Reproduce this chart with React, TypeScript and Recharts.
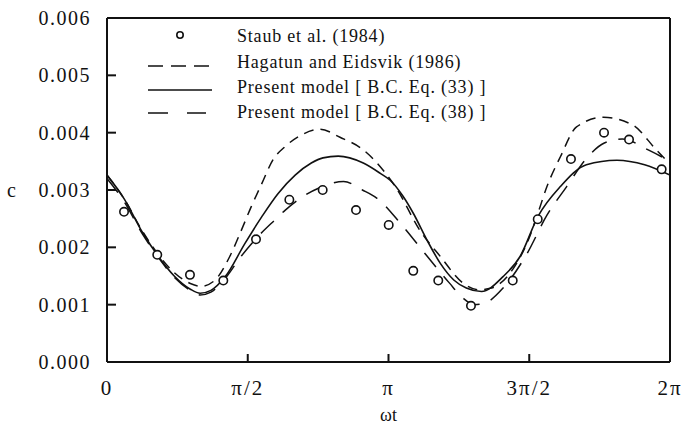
import {
  ComposedChart, Line, Scatter, XAxis, YAxis, ReferenceLine, Legend,
} from "recharts";

const PI = Math.PI;

// Staub et al. (1984) measurements
const staubX = [0.19, 0.561, 0.926, 1.298, 1.663, 2.035, 2.407, 2.779, 3.144, 3.418, 3.697, 4.062, 4.528, 4.807, 5.178, 5.547, 5.826, 6.19];
const staubC = [0.00262, 0.00187, 0.00152, 0.00142, 0.00214, 0.00283, 0.003, 0.00265, 0.00239, 0.00159, 0.00142, 0.00098, 0.00142, 0.00249, 0.00354, 0.004, 0.00388, 0.00336];

// Hagatun and Eidsvik (1986)
const hagX = [0, 0.19, 0.4, 0.56, 0.75, 0.93, 1.05, 1.2, 1.37, 1.5, 1.61, 1.73, 1.85, 1.99, 2.17, 2.38, 2.6, 2.86, 3.08, 3.23, 3.49, 3.72, 3.97, 4.15, 4.29, 4.53, 4.72, 4.81, 4.91, 5.06, 5.24, 5.54, 5.87, 6.13, 6.283];
const hagC = [0.00326, 0.00285, 0.00227, 0.0019, 0.00156, 0.00137, 0.00132, 0.00142, 0.00184, 0.0023, 0.00271, 0.00312, 0.00352, 0.00376, 0.00396, 0.00406, 0.00392, 0.0037, 0.00335, 0.00303, 0.0023, 0.00184, 0.00138, 0.00126, 0.00129, 0.00162, 0.0022, 0.0026, 0.00306, 0.00358, 0.0041, 0.00427, 0.00413, 0.0037, 0.00345];

// Present model, B.C. Eq. (33)
const eq33X = [0, 0.19, 0.4, 0.56, 0.75, 0.93, 1.04, 1.16, 1.32, 1.54, 1.73, 1.91, 2.1, 2.28, 2.41, 2.58, 2.86, 3.05, 3.16, 3.3, 3.42, 3.57, 3.72, 3.87, 4.01, 4.18, 4.42, 4.61, 4.81, 5.06, 5.35, 5.69, 6.0, 6.283];
const eq33C = [0.00326, 0.00285, 0.00225, 0.00187, 0.0015, 0.00127, 0.0012, 0.00125, 0.00149, 0.00207, 0.00254, 0.00294, 0.00326, 0.00347, 0.00356, 0.00359, 0.00347, 0.00329, 0.00317, 0.0029, 0.00259, 0.00213, 0.00172, 0.00143, 0.00129, 0.00123, 0.00149, 0.00184, 0.00254, 0.00306, 0.00344, 0.00352, 0.00344, 0.00326];

// Present model, B.C. Eq. (38)
const eq38X = [0, 0.19, 0.4, 0.56, 0.75, 0.93, 1.04, 1.16, 1.3, 1.5, 1.65, 1.875, 1.99, 2.21, 2.36, 2.64, 2.85, 3.01, 3.29, 3.56, 3.82, 3.97, 4.1, 4.22, 4.42, 4.68, 4.91, 5.13, 5.35, 5.55, 5.75, 6.04, 6.283];
const eq38C = [0.0032, 0.0028, 0.00222, 0.00185, 0.00148, 0.00125, 0.00117, 0.00122, 0.00142, 0.00185, 0.00213, 0.00248, 0.00265, 0.00291, 0.00303, 0.00315, 0.003, 0.00286, 0.00239, 0.00187, 0.00138, 0.00112, 0.001, 0.00103, 0.00129, 0.00187, 0.00256, 0.00306, 0.00355, 0.00382, 0.00389, 0.0037, 0.0035];

const xTicks = [0, PI / 2, PI, (3 * PI) / 2, 2 * PI];
const xTickLabels = ["0", "π/2", "π", "3π/2", "2π"];
const yTicks = [0, 0.001, 0.002, 0.003, 0.004, 0.005, 0.006];

const legendLabels = [
  "Staub et al. (1984)",
  "Hagatun and Eidsvik (1986)",
  "Present model [ B.C. Eq. (33) ]",
  "Present model [ B.C. Eq. (38) ]",
];

const zip = (xs: number[], cs: number[]) => xs.map((x, i) => ({ x, c: cs[i] }));

const staub = zip(staubX, staubC);
const hag = zip(hagX, hagC);
const eq33 = zip(eq33X, eq33C);
const eq38 = zip(eq38X, eq38C);

const FONT = "'Liberation Serif', 'Times New Roman', serif";
const INK = "#111";

function OpenCircle(props: any) {
  const { cx, cy } = props;
  return <circle cx={cx} cy={cy} r={4.2} fill="#fff" stroke={INK} strokeWidth={1.6} />;
}

function XTick(props: any) {
  const { x, y, payload } = props;
  const i = xTicks.findIndex((t) => Math.abs(t - payload.value) < 1e-6);
  return (
    <text x={x} y={y} dy="0.71em" textAnchor="middle" fontFamily={FONT} fontSize={21} letterSpacing={2} fill={INK}>
      {xTickLabels[i] ?? ""}
    </text>
  );
}

function YTick(props: any) {
  const { x, y, payload } = props;
  return (
    <text x={x} y={y} dy="0.35em" textAnchor="end" fontFamily={FONT} fontSize={20} letterSpacing={1.5} fill={INK}>
      {payload.value.toFixed(3)}
    </text>
  );
}

function renderLegend() {
  const rows = [16, 42, 67, 92];
  return (
    <svg width={420} height={105} style={{ display: "block", overflow: "visible" }}>
      <circle cx={40} cy={rows[0] - 1} r={3.2} fill="#fff" stroke={INK} strokeWidth={1.6} />
      <line x1={8} x2={70} y1={rows[1] + 4} y2={rows[1] + 4} stroke={INK} strokeWidth={1.5} strokeDasharray="15 8" />
      <line x1={8} x2={72} y1={rows[2] + 3} y2={rows[2] + 3} stroke={INK} strokeWidth={1.5} />
      <line x1={8} x2={66} y1={rows[3] + 1} y2={rows[3] + 1} stroke={INK} strokeWidth={1.5} strokeDasharray="20 19" />
      {legendLabels.map((t, i) => (
        <text key={t} x={97} y={rows[i] + 6} fontFamily={FONT} fontSize={18} letterSpacing={0.8} fill={INK}>
          {t}
        </text>
      ))}
    </svg>
  );
}

export default function App() {
  return (
    <div style={{ width: 690, height: 425, background: "#fff", fontFamily: FONT }}>
      <style>{"body{margin:0}"}</style>
      <ComposedChart width={690} height={425} margin={{ top: 18, right: 20, left: 0, bottom: 0 }}>
        <XAxis
          dataKey="x"
          type="number"
          domain={[0, 2 * PI]}
          ticks={xTicks}
          height={63}
          stroke={INK}
          strokeWidth={2}
          tickSize={-8}
          tickMargin={26}
          tick={<XTick />}
          interval={0}
          allowDataOverflow
          label={{ value: "ωt", position: "insideBottom", offset: 4, fill: INK, fontFamily: FONT, fontSize: 18 }}
        />
        <YAxis
          dataKey="c"
          type="number"
          domain={[0, 0.006]}
          ticks={yTicks}
          width={107}
          stroke={INK}
          strokeWidth={2}
          tickSize={-9}
          tickMargin={25}
          tick={<YTick />}
          interval={0}
          allowDataOverflow
          label={{ value: "c", position: "insideLeft", offset: 7, fill: INK, fontFamily: FONT, fontSize: 20 }}
        />
        <ReferenceLine y={0.006} stroke={INK} strokeWidth={2} />
        <ReferenceLine x={2 * PI} stroke={INK} strokeWidth={2} />
        <Legend
          layout="vertical"
          align="center"
          verticalAlign="middle"
          content={renderLegend}
          wrapperStyle={{ position: "absolute", left: 140, top: 20, width: 420, height: 105 }}
        />
        <Line data={hag} dataKey="c" type="monotone" stroke={INK} strokeWidth={1.5} strokeDasharray="10 7" dot={false} isAnimationActive={false} />
        <Line data={eq33} dataKey="c" type="monotone" stroke={INK} strokeWidth={1.6} dot={false} isAnimationActive={false} />
        <Line data={eq38} dataKey="c" type="monotone" stroke={INK} strokeWidth={1.5} strokeDasharray="18 12" dot={false} isAnimationActive={false} />
        <Scatter data={staub} dataKey="c" shape={OpenCircle} isAnimationActive={false} />
      </ComposedChart>
    </div>
  );
}
